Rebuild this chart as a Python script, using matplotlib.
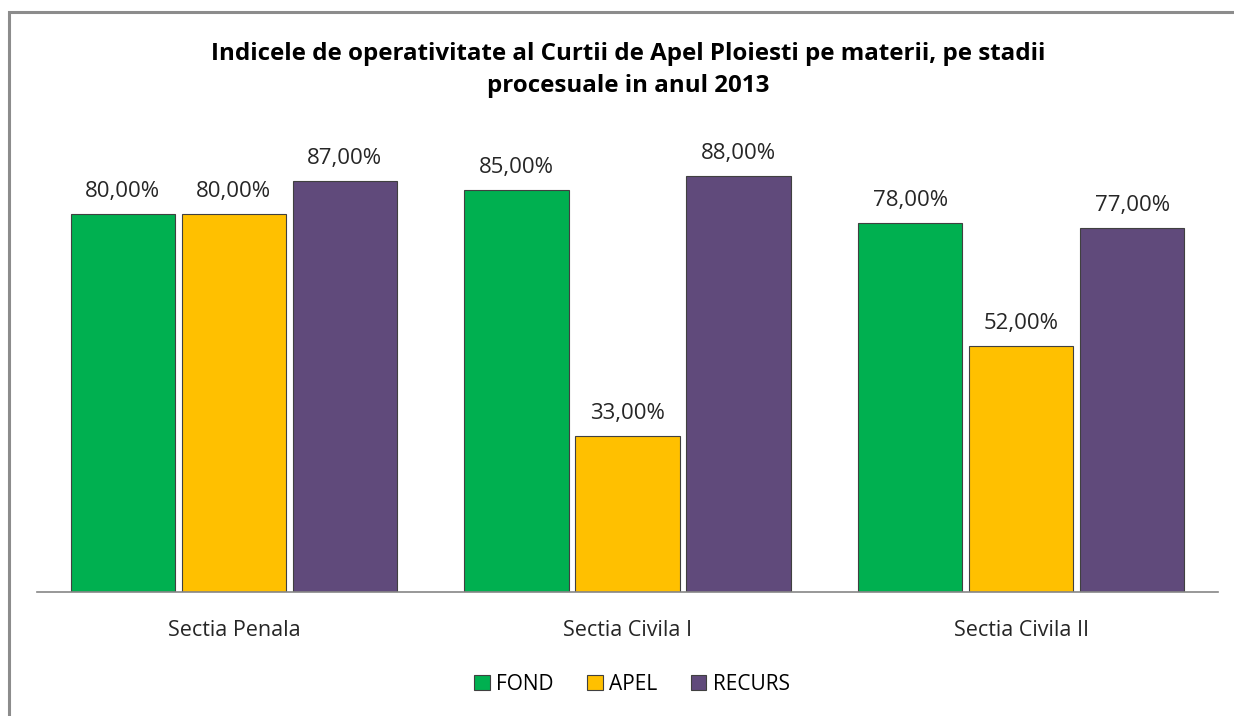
import numpy as np
import matplotlib
matplotlib.use('Agg')
from matplotlib import pyplot as plt
from matplotlib.patches import Rectangle

plt.rcParams['font.family'] = ['Open Sans', 'DejaVu Sans']

categories = ['Sectia Penala', 'Sectia Civila I', 'Sectia Civila II']
series = ['FOND', 'APEL', 'RECURS']
fond = [80, 85, 78]
apel = [80, 33, 52]
recurs = [87, 88, 77]
colors = ['#00B050', '#FFC000', '#604A7B']

W, H = 1234, 716
fig = plt.figure(figsize=(W / 100, H / 100), dpi=100)
ax = fig.add_axes([37 / W, 1 - 592 / H, 1181 / W, 472.5 / H])

x = np.arange(len(categories))
bw = 0.265
step = 0.282
for i, (name, vals) in enumerate(zip(series, [fond, apel, recurs])):
    pos = x + (i - 1) * step
    bars = ax.bar(pos, vals, bw, color=colors[i], edgecolor='#404040', linewidth=0.8, label=name)
    for b, v in zip(bars, vals):
        ax.text(b.get_x() + b.get_width() / 2, v + 2.6, f'{v:.2f}%'.replace('.', ','),
                ha='center', va='bottom', fontsize=16, color='#262626')

ax.set_xlim(-0.5, 2.5)
ax.set_ylim(0, 100)
ax.set_yticks([])
ax.set_xticks(x)
ax.set_xticklabels(categories, fontsize=15.5, color='#262626')
ax.tick_params(axis='x', length=0, pad=20)
for s in ['top', 'right', 'left']:
    ax.spines[s].set_visible(False)
ax.spines['bottom'].set_color('#868686')
ax.spines['bottom'].set_linewidth(1.2)

fig.text(628 / W, 1 - 70 / H, 'Indicele de operativitate al Curtii de Apel Ploiesti pe materii, pe stadii\nprocesuale in anul 2013',
         ha='center', va='center', fontsize=17.4, fontweight='bold', linespacing=1.5, color='#000000')

leg = fig.legend(loc='center', bbox_to_anchor=(632 / W, 1 - 684 / H), ncol=3, frameon=False,
                 fontsize=15, handlelength=0.75, handleheight=0.75, handletextpad=0.3, columnspacing=1.6)

fig.patches.append(Rectangle((9 / W, -0.05), 1.1, 1 - 12 / H + 0.05, transform=fig.transFigure,
                             fill=False, edgecolor='#8C8C8C', linewidth=2.2))

fig.savefig('out.png', dpi=100)
